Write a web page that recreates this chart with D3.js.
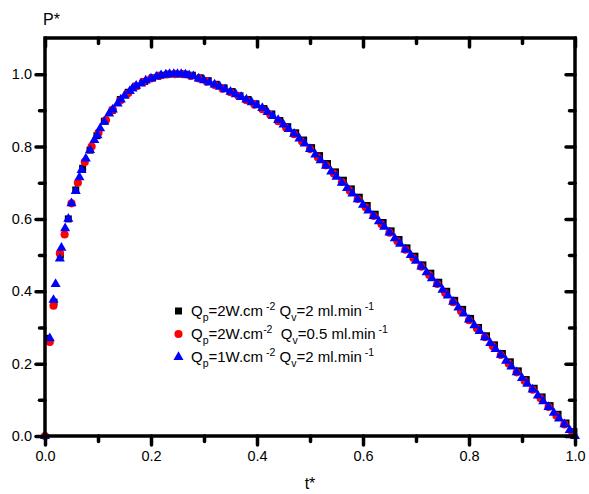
<!DOCTYPE html>
<html>
<head>
<meta charset="utf-8">
<script src="https://cdnjs.cloudflare.com/ajax/libs/d3/7.8.5/d3.min.js"></script>
<style>
  body { margin: 0; background: #fff; }
  svg { display: block; font-family: Arial, "Liberation Sans", sans-serif; }
</style>
</head>
<body>
<svg width="589" height="494"></svg>
<script>
// series 1 : Qp=2W.cm-2 Qv=2 ml.min-1 (black squares)
var tBlack = [0.005, 0.017, 0.029, 0.044, 0.058, 0.071, 0.085, 0.098, 0.112, 0.127, 0.142, 0.157, 0.172, 0.188,
  0.203, 0.218, 0.233, 0.248, 0.263, 0.278, 0.293, 0.308, 0.323, 0.338, 0.353, 0.368, 0.383, 0.398, 0.413,
  0.428, 0.443, 0.458, 0.473, 0.488, 0.503, 0.518, 0.533, 0.548, 0.563, 0.578, 0.593, 0.608, 0.623, 0.638,
  0.653, 0.668, 0.683, 0.698, 0.713, 0.728, 0.743, 0.758, 0.773, 0.788, 0.803, 0.818, 0.833, 0.848, 0.863,
  0.878, 0.893, 0.908, 0.923, 0.938, 0.953, 0.968, 0.983, 0.998];
var pBlack = [0.27, 0.37, 0.50, 0.60, 0.68, 0.74, 0.79, 0.83, 0.87, 0.90, 0.93, 0.95, 0.967, 0.98,
  0.99, 0.997, 1.0, 1.0, 1.0, 0.997, 0.99, 0.982, 0.972, 0.962, 0.952, 0.94, 0.93, 0.918, 0.905,
  0.89, 0.872, 0.855, 0.838, 0.818, 0.797, 0.775, 0.753, 0.73, 0.707, 0.683, 0.66, 0.637, 0.613, 0.59,
  0.567, 0.543, 0.52, 0.497, 0.473, 0.45, 0.425, 0.40, 0.375, 0.35, 0.325, 0.30, 0.277, 0.252, 0.228,
  0.205, 0.18, 0.156, 0.132, 0.108, 0.084, 0.06, 0.036, 0.012];

// series 2 : Qp=2W.cm-2 Qv=0.5 ml.min-1 (red circles)
var tRed = [0.0, 0.009, 0.016, 0.028, 0.037, 0.05, 0.062, 0.075, 0.088, 0.101, 0.115, 0.128, 0.142, 0.155,
  0.17, 0.185, 0.2, 0.215, 0.23, 0.245, 0.26, 0.275, 0.29, 0.305, 0.32, 0.335, 0.35, 0.365, 0.38, 0.395,
  0.41, 0.425, 0.44, 0.455, 0.47, 0.485, 0.5, 0.515, 0.53, 0.545, 0.56, 0.575, 0.59, 0.605, 0.62, 0.635,
  0.65, 0.665, 0.68, 0.695, 0.71, 0.725, 0.74, 0.755, 0.77, 0.785, 0.8, 0.815, 0.83, 0.845, 0.86, 0.875,
  0.89, 0.905, 0.92, 0.935, 0.95, 0.965, 0.98, 0.995];
var pRed = [0.0, 0.26, 0.36, 0.505, 0.557, 0.643, 0.70, 0.757, 0.80, 0.838, 0.873, 0.902, 0.927, 0.945,
  0.965, 0.978, 0.988, 0.995, 0.999, 1.0, 1.0, 0.995, 0.988, 0.98, 0.97, 0.96, 0.95, 0.94, 0.928, 0.916,
  0.903, 0.888, 0.87, 0.852, 0.834, 0.814, 0.793, 0.77, 0.748, 0.725, 0.702, 0.678, 0.655, 0.632, 0.608, 0.585,
  0.562, 0.538, 0.515, 0.492, 0.468, 0.445, 0.42, 0.395, 0.37, 0.345, 0.32, 0.297, 0.273, 0.248, 0.224, 0.2,
  0.176, 0.152, 0.128, 0.104, 0.08, 0.056, 0.032, 0.008];

// series 3 : Qp=1W.cm-2 Qv=2 ml.min-1 (blue triangles)
var tBlue = [0.0, 0.009, 0.016, 0.02, 0.028, 0.031, 0.038, 0.044, 0.05, 0.058, 0.065, 0.069, 0.077, 0.085,
  0.093, 0.099, 0.104, 0.112, 0.121, 0.128, 0.137, 0.143, 0.15, 0.16, 0.165, 0.172, 0.181, 0.19, 0.2, 0.21,
  0.219, 0.228, 0.235, 0.243, 0.25, 0.257, 0.265, 0.272, 0.28, 0.29, 0.30, 0.31, 0.32, 0.33, 0.34, 0.35,
  0.36, 0.37, 0.38, 0.39, 0.40, 0.41, 0.42, 0.43, 0.44, 0.45, 0.46, 0.47, 0.48, 0.49, 0.50, 0.51, 0.52,
  0.53, 0.54, 0.55, 0.56, 0.57, 0.58, 0.59, 0.60, 0.61, 0.62, 0.63, 0.64, 0.65, 0.66, 0.67, 0.68, 0.69,
  0.70, 0.71, 0.72, 0.73, 0.74, 0.75, 0.76, 0.77, 0.78, 0.79, 0.80, 0.81, 0.82, 0.83, 0.84, 0.85, 0.86,
  0.87, 0.88, 0.89, 0.90, 0.91, 0.92, 0.93, 0.94, 0.95, 0.96, 0.97, 0.98, 0.99, 1.0];
var pBlue = [0.0, 0.27, 0.376, 0.42, 0.49, 0.52, 0.574, 0.60, 0.643, 0.677, 0.715, 0.735, 0.767, 0.79,
  0.818, 0.831, 0.85, 0.868, 0.891, 0.902, 0.919, 0.93, 0.94, 0.953, 0.96, 0.968, 0.974, 0.982, 0.988, 0.993,
  0.997, 0.999, 1.0, 1.0, 1.0, 1.0, 0.999, 0.997, 0.994, 0.988, 0.983, 0.977, 0.971, 0.965, 0.958, 0.951,
  0.944, 0.937, 0.93, 0.922, 0.914, 0.906, 0.895, 0.884, 0.873, 0.861, 0.848, 0.835, 0.822, 0.808, 0.793, 0.778, 0.762,
  0.747, 0.731, 0.716, 0.70, 0.685, 0.67, 0.654, 0.639, 0.623, 0.608, 0.593, 0.578, 0.562, 0.546, 0.531, 0.515, 0.50,
  0.484, 0.468, 0.452, 0.436, 0.42, 0.404, 0.388, 0.371, 0.355, 0.338, 0.322, 0.306, 0.29, 0.273, 0.257, 0.24, 0.224,
  0.208, 0.192, 0.176, 0.16, 0.144, 0.128, 0.112, 0.096, 0.08, 0.064, 0.048, 0.032, 0.016, 0.0];

var xMajor = [0, 0.2, 0.4, 0.6, 0.8, 1.0];
var xMinor = [0.1, 0.3, 0.5, 0.7, 0.9];
var yMajor = [0, 0.2, 0.4, 0.6, 0.8, 1.0];
var yMinor = [0.1, 0.3, 0.5, 0.7, 0.9];

// legend text pieces: [text, shift]  (0 normal, 1 subscript, -1 superscript)
var legendLines = [
  [["Q", 0], ["p", 1], ["=2W.cm", 0], [" -2", -1], [" Q", 0], ["v", 1], ["=2 ml.min", 0], [" -1", -1]],
  [["Q", 0], ["p", 1], ["=2W.cm", 0], ["-2", -1], ["  Q", 0], ["v", 1], ["=0.5 ml.min", 0], [" -1", -1]],
  [["Q", 0], ["p", 1], ["=1W.cm", 0], [" -2", -1], [" Q", 0], ["v", 1], ["=2 ml.min", 0], [" -1", -1]]
];

(function() {
var svg = d3.select("svg");
var mLeft = 45, mRight = 575, mTop = 38, mBottom = 436;

var x = d3.scaleLinear().domain([0, 1]).range([mLeft, mRight]);
var y = d3.scaleLinear().domain([0, 1.1]).range([mBottom, mTop]);
var fmt = d3.format(".1f");

function zip(ts, ps) {
  return ts.map(function(t, i) { return {t: t, p: ps[i]}; });
}

var series = [
  {data: zip(tBlack, pBlack), shape: d3.symbolSquare, size: 49, color: "#000000"},
  {data: zip(tRed, pRed), shape: d3.symbolCircle, size: 52, color: "#ff0000"},
  {data: zip(tBlue, pBlue), shape: d3.symbolTriangle, size: 44, color: "#0000ff"}
];

var marks = svg.append("g");
series.forEach(function(s) {
  marks.append("g").selectAll("path")
      .data(s.data)
    .enter().append("path")
      .attr("transform", function(d) { return "translate(" + x(d.t) + "," + y(d.p) + ")"; })
      .attr("d", d3.symbol().type(s.shape).size(s.size))
      .attr("fill", s.color);
});

function styleAxis(g) {
  g.select(".domain").remove();
  g.selectAll(".tick line").attr("stroke", "#000").attr("stroke-width", 3.5).attr("stroke-linecap", "round");
  g.selectAll(".tick text").attr("fill", "#000").attr("font-size", 14.5)
    .attr("font-family", "Arial, 'Liberation Sans', sans-serif");
}

// bottom
svg.append("g").attr("transform", "translate(0," + mBottom + ")")
  .call(d3.axisBottom(x).tickValues(xMajor).tickSize(9).tickPadding(6).tickFormat(fmt)).call(styleAxis);
svg.append("g").attr("transform", "translate(0," + mBottom + ")")
  .call(d3.axisBottom(x).tickValues(xMinor).tickSize(5.5).tickFormat("")).call(styleAxis);
// left
svg.append("g").attr("transform", "translate(" + mLeft + ",0)")
  .call(d3.axisLeft(y).tickValues(yMajor).tickSize(9).tickPadding(4).tickFormat(fmt)).call(styleAxis);
svg.append("g").attr("transform", "translate(" + mLeft + ",0)")
  .call(d3.axisLeft(y).tickValues(yMinor).tickSize(5.5).tickFormat("")).call(styleAxis);
// top (ticks inward)
svg.append("g").attr("transform", "translate(0," + mTop + ")")
  .call(d3.axisBottom(x).tickValues(xMajor).tickSize(9).tickFormat("")).call(styleAxis);
svg.append("g").attr("transform", "translate(0," + mTop + ")")
  .call(d3.axisBottom(x).tickValues(xMinor).tickSize(5.5).tickFormat("")).call(styleAxis);
// right (ticks inward)
svg.append("g").attr("transform", "translate(" + mRight + ",0)")
  .call(d3.axisLeft(y).tickValues(yMajor).tickSize(9).tickFormat("")).call(styleAxis);
svg.append("g").attr("transform", "translate(" + mRight + ",0)")
  .call(d3.axisLeft(y).tickValues(yMinor).tickSize(5.5).tickFormat("")).call(styleAxis);

svg.append("rect")
    .attr("x", mLeft).attr("y", mTop)
    .attr("width", mRight - mLeft).attr("height", mBottom - mTop)
    .attr("fill", "none").attr("stroke", "#000").attr("stroke-width", 3.5);

// axis titles
svg.append("text").attr("x", 43).attr("y", 25).attr("font-size", 16).text("P*");
svg.append("text").attr("x", (mLeft + mRight) / 2).attr("y", 489).attr("font-size", 16)
  .attr("text-anchor", "middle").text("t*");

// legend
var legend = svg.append("g");
var rowY = [311, 334, 357];
series.forEach(function(s, i) {
  legend.append("path")
      .attr("transform", "translate(178.5," + rowY[i] + ")")
      .attr("d", d3.symbol().type(s.shape).size(s.size))
      .attr("fill", s.color);
  var txt = legend.append("text")
      .attr("x", 191).attr("y", rowY[i] + 5)
      .attr("font-size", 15)
      .attr("xml:space", "preserve");
  var cur = 0;
  legendLines[i].forEach(function(seg) {
    var shift = seg[1] === 1 ? 5 : (seg[1] === -1 ? -6 : 0);
    txt.append("tspan")
        .attr("dy", shift - cur)
        .attr("font-size", seg[1] === 0 ? 15 : 10.5)
        .text(seg[0]);
    cur = shift;
  });
});
})();
</script>
</body>
</html>
